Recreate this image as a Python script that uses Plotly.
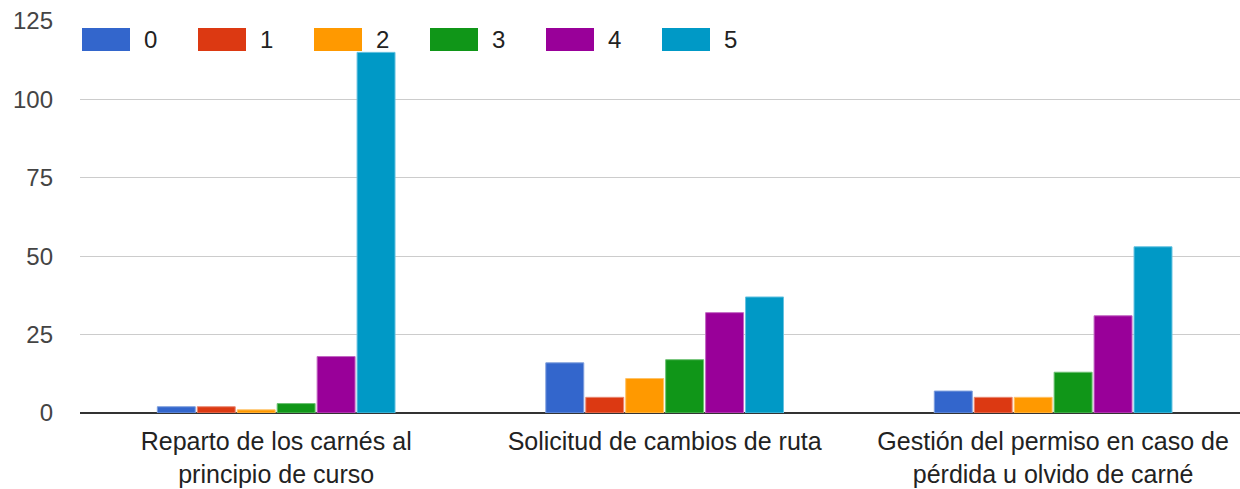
import plotly.graph_objects as go

# Survey ratings (0-5) for each school-bus service aspect
categories = ["Reparto", "Solicitud", "Gestión"]
tick_labels = [
    "Reparto de los carnés al<br>principio de curso",
    "Solicitud de cambios de ruta",
    "Gestión del permiso en caso de<br>pérdida u olvido de carné",
]
series_names = ["0", "1", "2", "3", "4", "5"]
rating_0 = [2, 16, 7]
rating_1 = [2, 5, 5]
rating_2 = [1, 11, 5]
rating_3 = [3, 17, 13]
rating_4 = [18, 32, 31]
rating_5 = [115, 37, 53]
series_values = [rating_0, rating_1, rating_2, rating_3, rating_4, rating_5]
colors = ["#3366CC", "#DC3912", "#FF9900", "#109618", "#990099", "#0099C6"]
outline = ["#7f9fdd", "#e88a74", "#ffc266", "#6cc072", "#c266c2", "#66c2e0"]
y_ticks = [0, 25, 50, 75, 100, 125]

W, H = 1240, 489
M_L, M_R, M_T, M_B = 80, 0, 21, 76
plot_w = W - M_L - M_R
plot_h = H - M_T - M_B

fig = go.Figure()
for name, vals, col, edge in zip(series_names, series_values, colors, outline):
    fig.add_trace(go.Bar(
        x=list(range(len(categories))),
        y=vals,
        name=name,
        marker=dict(color=col, line=dict(width=1, color=edge)),
        showlegend=False,
    ))

# Legend drawn as wide colour swatches across the top of the plot area
def px_x(px):
    return (px - M_L) / plot_w

def px_y(py):
    return (H - M_B - py) / plot_h

shapes = []
annotations = []
for i, (name, col) in enumerate(zip(series_names, colors)):
    x0 = 82 + i * 116
    shapes.append(dict(
        type="rect", xref="paper", yref="paper",
        x0=px_x(x0), x1=px_x(x0 + 48), y0=px_y(51), y1=px_y(28),
        fillcolor=col, line=dict(width=0), layer="above",
    ))
    annotations.append(dict(
        xref="paper", yref="paper", x=px_x(x0 + 60), y=px_y(40),
        text=name, showarrow=False, xanchor="left", yanchor="middle",
        font=dict(family="Liberation Sans, Arial, sans-serif", size=24, color="#222222"),
    ))

fig.update_layout(
    width=W, height=H,
    margin=dict(l=M_L, r=M_R, t=M_T, b=M_B, pad=0),
    paper_bgcolor="white", plot_bgcolor="white",
    barmode="group", bargap=0.383, bargroupgap=0.05,
    font=dict(family="Liberation Sans, Arial, sans-serif", size=24, color="#444444"),
    shapes=shapes, annotations=annotations,
    xaxis=dict(
        range=[-0.505, 2.481],
        tickmode="array",
        tickvals=list(range(len(categories))),
        ticktext=tick_labels,
        tickfont=dict(size=25, color="#222222"),
        showgrid=False, zeroline=False, showline=False, ticks="",
        ticklabelstandoff=11,
    ),
    yaxis=dict(
        range=[0, 125],
        tickmode="array", tickvals=y_ticks,
        tickfont=dict(size=24, color="#444444"),
        showgrid=True, gridcolor="#cccccc", gridwidth=1,
        zeroline=True, zerolinecolor="#333333", zerolinewidth=2,
        showline=False, ticks="",
        ticklabelstandoff=26,
    ),
)

fig.write_html("out.html")
